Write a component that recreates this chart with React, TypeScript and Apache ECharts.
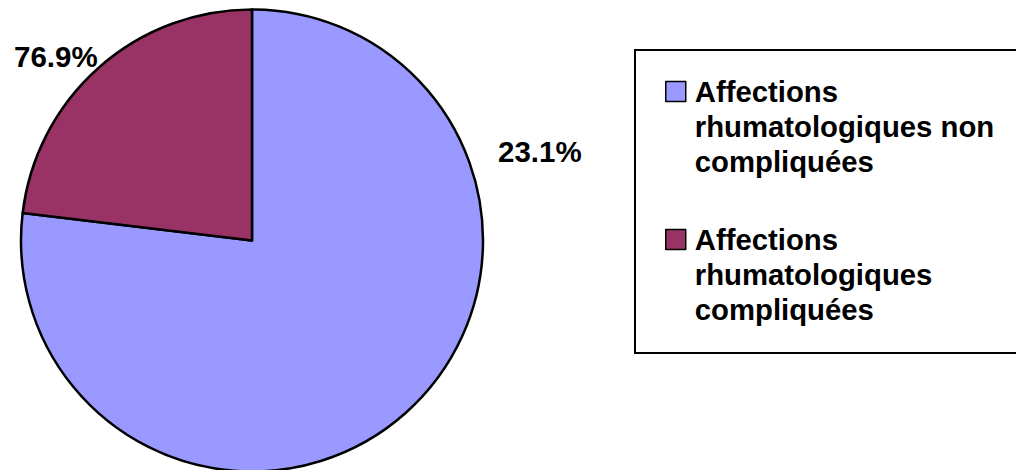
import React, { useEffect, useRef } from "react";
import * as echarts from "echarts";

const categories = [
  "Affections\nrhumatologiques non\ncompliquées",
  "Affections\nrhumatologiques\ncompliquées",
];
const values = [76.9, 23.1];
const colors = ["#9999FF", "#993366"];
// The source chart prints each slice's label with the other slice's percentage.
const sliceLabels = ["23.1%", "76.9%"];
const labelSpots = [
  { x: 498, y: 151.6 },
  { x: 14, y: 56.3 },
];

const FONT = "'Liberation Sans', Arial, sans-serif";

export default function App() {
  const ref = useRef<HTMLDivElement>(null);
  useEffect(() => {
    if (!ref.current) return;
    const chart = echarts.init(ref.current, undefined, { renderer: "svg" });
    chart.setOption({
      animation: false,
      backgroundColor: "#ffffff",
      legend: {
        orient: "vertical",
        left: 635,
        top: 50,
        padding: [24, 70, 26, 30],
        itemGap: 43,
        itemWidth: 20,
        itemHeight: 90,
        icon: "path://M0,90M0,0L20,0L20,20L0,20Z",
        borderColor: "#000",
        borderWidth: 2,
        itemStyle: { borderColor: "#000", borderWidth: 1.5 },
        textStyle: {
          fontFamily: FONT,
          fontWeight: "bold",
          fontSize: 29.3,
          lineHeight: 35,
          color: "#000",
          padding: [0, 0, 0, 4],
        },
        selectedMode: false,
        data: categories,
      },
      series: [
        {
          type: "pie",
          center: [252, 240.5],
          radius: 231,
          startAngle: 90,
          clockwise: true,
          silent: true,
          itemStyle: { borderColor: "#000", borderWidth: 2.5 },
          label: {
            show: true,
            position: "outside",
            overflow: "none",
            fontFamily: FONT,
            fontWeight: "bold",
            fontSize: 29.5,
            color: "#000",
            formatter: (p: any) => sliceLabels[p.dataIndex],
          },
          labelLine: { show: false },
          labelLayout: (p: any) => ({
            x: labelSpots[p.dataIndex].x,
            y: labelSpots[p.dataIndex].y,
            align: "left",
            verticalAlign: "middle",
            width: 200,
          }),
          data: categories.map((name, i) => ({
            name,
            value: values[i],
            itemStyle: { color: colors[i] },
          })),
        },
      ],
    });
    return () => chart.dispose();
  }, []);
  return (
    <div
      ref={ref}
      style={{ position: "absolute", left: 0, top: 0, width: 1016, height: 470 }}
    />
  );
}
